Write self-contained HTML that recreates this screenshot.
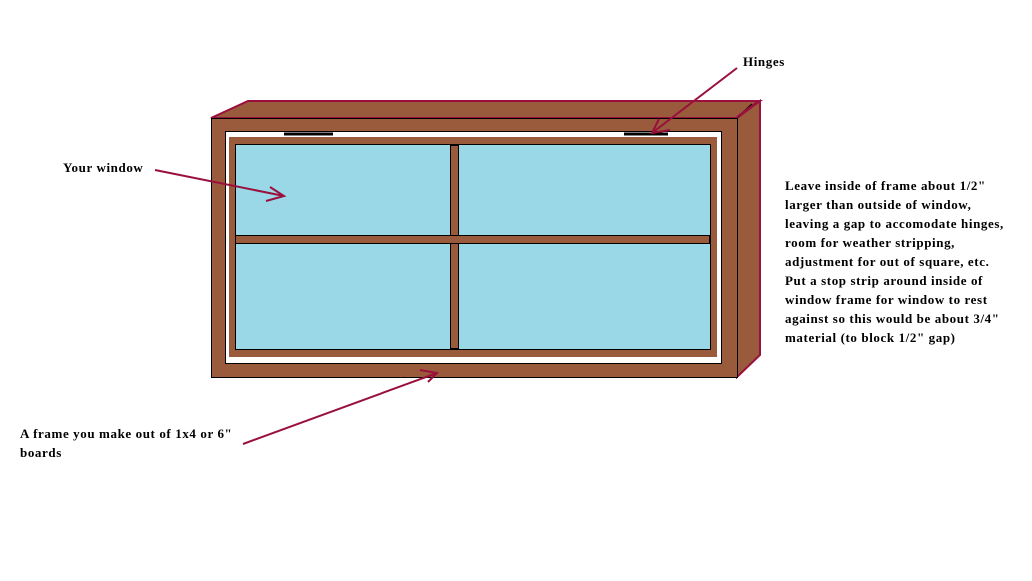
<!DOCTYPE html>
<html><head><style>
body{margin:0;width:1032px;height:581px;background:#fff;overflow:hidden;position:relative}
.t{position:absolute;font-family:"Liberation Serif",serif;font-weight:bold;font-size:13px;letter-spacing:0.6px;color:#000;line-height:19px;white-space:nowrap}
</style></head><body>
<svg width="1032" height="581" style="position:absolute;left:0;top:0">
<g stroke-linejoin="miter">
<polygon points="211,118 248,101 760,101 737,118" fill="#9a5a3c" stroke="#99103c" stroke-width="2"/>
<polygon points="737,118 760,101 760,355 737,377" fill="#9a5a3c" stroke="#99103c" stroke-width="2"/>
<rect x="211.5" y="118.5" width="526" height="259" fill="#9a5a3c" stroke="#000" stroke-width="1"/>
<rect x="225.5" y="131.5" width="496" height="232" fill="#fff" stroke="#000" stroke-width="1"/>
<rect x="229" y="137" width="488" height="220" fill="#9a5a3c"/>
<rect x="235.5" y="144.5" width="475" height="205" fill="#9ad8e8" stroke="#000" stroke-width="1"/>
<rect x="450.5" y="145.5" width="8" height="203" fill="#9a5a3c" stroke="#000" stroke-width="1"/>
<rect x="235.5" y="235.5" width="474" height="8" fill="#9a5a3c" stroke="#000" stroke-width="1"/>
<line x1="284" y1="134" x2="333" y2="134" stroke="#000" stroke-width="3"/>
<line x1="624" y1="134" x2="668" y2="134" stroke="#000" stroke-width="3"/>
<line x1="738" y1="117" x2="752" y2="104" stroke="#000" stroke-width="1.5"/>
</g>
<g stroke="#99103c" stroke-width="2" fill="none">
<line x1="155" y1="170" x2="284" y2="196"/>
<polyline points="270,187 284,196 266,201"/>
<line x1="243" y1="444" x2="437" y2="373"/>
<polyline points="420,370 437,373 428,382"/>
<line x1="737" y1="68" x2="652" y2="133"/>
<polyline points="659,119 652,133 670,130"/>
<line x1="757" y1="102" x2="737" y2="117"/>
</g>
</svg>
<div class="t" style="left:743px;top:52px">Hinges</div>
<div class="t" style="left:63px;top:158px">Your window</div>
<div class="t" style="left:785px;top:176px">Leave inside of frame about 1/2"<br>larger than outside of window,<br>leaving a gap to accomodate hinges,<br>room for weather stripping,<br>adjustment for out of square, etc.<br>Put a stop strip around inside of<br>window frame for window to rest<br>against so this would be about 3/4"<br>material (to block 1/2" gap)</div>
<div class="t" style="left:20px;top:424px">A frame you make out of 1x4 or 6"<br>boards</div>
</body></html>
